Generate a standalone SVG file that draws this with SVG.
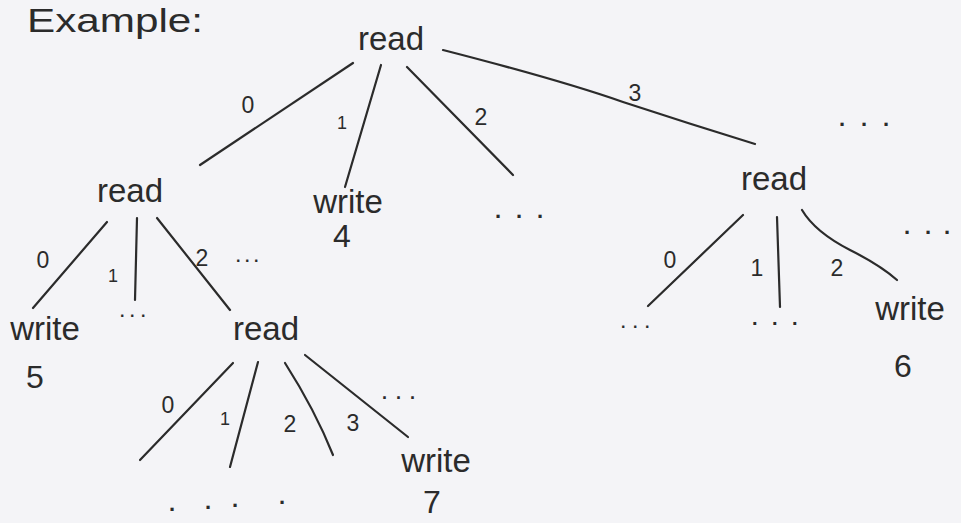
<svg xmlns="http://www.w3.org/2000/svg" width="961" height="523" viewBox="0 0 961 523">
  <style>
    .bg { fill: #f4f4f7; }
    .edge { fill: none; stroke: #2b2b2b; stroke-width: 2.2; stroke-linecap: round; }
    .node { font-family: "Liberation Sans", Arial, sans-serif; font-size: 33px; fill: #2b2b2b; text-anchor: middle; }
    .num { font-family: "Liberation Sans", Arial, sans-serif; font-size: 32px; fill: #2b2b2b; text-anchor: middle; }
    .lbl { font-family: "Liberation Sans", Arial, sans-serif; font-size: 23px; fill: #2b2b2b; text-anchor: middle; }
    .small { font-size: 18px; }
    .dots { font-family: "Liberation Sans", Arial, sans-serif; fill: #2b2b2b; font-weight: bold; }
    .title { font-family: "Liberation Sans", Arial, sans-serif; font-size: 34px; fill: #2b2b2b; }
  </style>
  <rect class="bg" x="0" y="0" width="961" height="523"/>

  <text class="title" x="27" y="32" textLength="176" lengthAdjust="spacingAndGlyphs">Example:</text>

  <g id="connectors">
    <!-- root edges -->
    <path class="edge" d="M353,63 L200,165"/>
    <path class="edge" d="M381,65 L345,187"/>
    <path class="edge" d="M407,67 L513,175"/>
    <path class="edge" d="M443,50 Q560,80 623,102 Q690,124 755,144"/>
    <!-- left read edges -->
    <path class="edge" d="M107,222 L33,308"/>
    <path class="edge" d="M137,218 L135,300"/>
    <path class="edge" d="M157,218 L230,310"/>
    <!-- middle read edges -->
    <path class="edge" d="M233,363 L140,460"/>
    <path class="edge" d="M258,362 L230,467"/>
    <path class="edge" d="M285,363 Q315,410 333,455"/>
    <path class="edge" d="M305,355 L408,437"/>
    <!-- right read edges -->
    <path class="edge" d="M743,215 L648,306"/>
    <path class="edge" d="M777,217 L780,307"/>
    <path class="edge" d="M802,210 Q815,232 850,250 Q880,265 897,280"/>
    <!-- edge labels -->
    <text class="lbl" x="248" y="113">0</text>
    <text class="lbl small" x="342" y="129">1</text>
    <text class="lbl" x="481" y="125">2</text>
    <text class="lbl" x="635" y="101">3</text>
    <text class="lbl" x="43" y="268">0</text>
    <text class="lbl small" x="113" y="282">1</text>
    <text class="lbl" x="202" y="266">2</text>
    <text class="lbl" x="168" y="413">0</text>
    <text class="lbl small" x="225" y="425">1</text>
    <text class="lbl" x="290" y="432">2</text>
    <text class="lbl" x="353" y="431">3</text>
    <text class="lbl" x="670" y="268">0</text>
    <text class="lbl" x="757" y="276">1</text>
    <text class="lbl" x="837" y="276">2</text>
  </g>

  <g id="root">
    <text class="node" x="391" y="50">read</text>
    <text class="dots" x="839 861 883" y="126" font-size="22">...</text>
  </g>
  <g id="write4">
    <text class="node" x="348" y="213">write</text>
    <text class="num" x="342" y="247">4</text>
  </g>
  <g id="more-root-2">
    <text class="dots" x="495 516 537" y="218" font-size="22">...</text>
  </g>
  <g id="read-left">
    <text class="node" x="130" y="202">read</text>
    <text class="dots" x="236 245 254" y="262" font-size="16">...</text>
  </g>
  <g id="write5">
    <text class="node" x="45" y="340">write</text>
    <text class="num" x="35" y="388">5</text>
  </g>
  <g id="more-left-1">
    <text class="dots" x="120 130 141" y="317" font-size="16">...</text>
  </g>
  <g id="read-middle">
    <text class="node" x="266" y="340">read</text>
    <text class="dots" x="382 396 410" y="399" font-size="18">...</text>
  </g>
  <g id="more-middle">
    <text class="dots" x="169 205 232 279" y="511 509 507 504" font-size="22">....</text>
  </g>
  <g id="write7">
    <text class="node" x="436" y="472">write</text>
    <text class="num" x="432" y="513">7</text>
  </g>
  <g id="read-right">
    <text class="node" x="774" y="190">read</text>
    <text class="dots" x="904 925 944" y="234" font-size="22">...</text>
  </g>
  <g id="more-right-0">
    <text class="dots" x="621 633 645" y="328" font-size="16">...</text>
  </g>
  <g id="more-right-1">
    <text class="dots" x="752 772 792" y="325" font-size="20">...</text>
  </g>
  <g id="write6">
    <text class="node" x="910" y="320">write</text>
    <text class="num" x="903" y="377">6</text>
  </g>
</svg>
